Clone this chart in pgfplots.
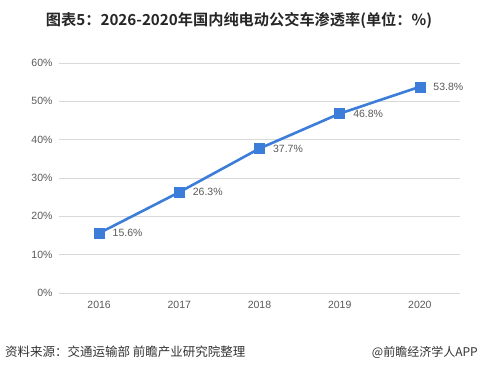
\documentclass[border=0pt]{standalone}
\usepackage{pgfplots}
\pgfplotsset{compat=1.18}
\usepackage{fontspec}
\setmainfont{Liberation Sans}
\newfontfamily\cjk{Noto Sans CJK SC}
\newfontfamily\cjkb{Noto Sans CJK SC Bold}
\definecolor{lineblue}{HTML}{3C7DD9}
\definecolor{tickgray}{HTML}{595959}
\definecolor{gridgray}{HTML}{D9D9D9}
\begin{document}
\begin{tikzpicture}
\useasboundingbox (0pt,0pt) rectangle (480pt,372pt);
\fill[white] (0pt,0pt) rectangle (480pt,372pt);
\node[font=\cjkb\fontsize{15.2}{17}\selectfont, text=black!85] at (239pt,352pt) {图表5：2026-2020年国内纯电动公交车渗透率(单位：\%)};
\node[font=\cjk\fontsize{12.5}{14}\selectfont, text=black!80, anchor=west, inner sep=0pt] at (5pt,20pt) {资料来源：交通运输部 前瞻产业研究院整理};
\node[font=\cjk\fontsize{12}{14}\selectfont, text=black!80, anchor=east, inner sep=0pt] at (478pt,20pt) {@前瞻经济学人APP};
\begin{axis}[
  at={(59pt,79pt)}, anchor=south west,
  scale only axis, width=401pt, height=230pt,
  xmin=-0.5, xmax=4.5, ymin=0, ymax=60,
  xtick={0,1,2,3,4}, xticklabels={2016,2017,2018,2019,2020},
  ytick={0,10,20,30,40,50,60},
  yticklabel={\pgfmathprintnumber{\tick}\%},
  /pgf/number format/assume math mode=true,
  ymajorgrids, grid style={gridgray, line width=0.6pt},
  axis line style={draw=none},
  axis x line*=bottom,
  x axis line style={draw=gridgray, line width=0.8pt},
  tick style={draw=none},
  ticklabel style={font=\fontsize{10.5}{12}\selectfont, text=tickgray},
  xticklabel style={yshift=-5pt},
  yticklabel style={xshift=-3pt},
  clip=false,
  nodes near coords={\pgfmathprintnumber[fixed,precision=1,fixed zerofill]{\pgfplotspointmeta}\%},
  nodes near coords style={anchor=west, xshift=10pt, font=\fontsize{10.5}{12}\selectfont, text=tickgray},
]
\addplot[color=lineblue, line width=2.6pt, mark=square*, mark size=5pt, mark options={fill=lineblue, draw=lineblue, line width=0.5pt}]
  coordinates {(0,15.6) (1,26.3) (2,37.7) (3,46.8) (4,53.8)};
\end{axis}
\end{tikzpicture}
\end{document}
